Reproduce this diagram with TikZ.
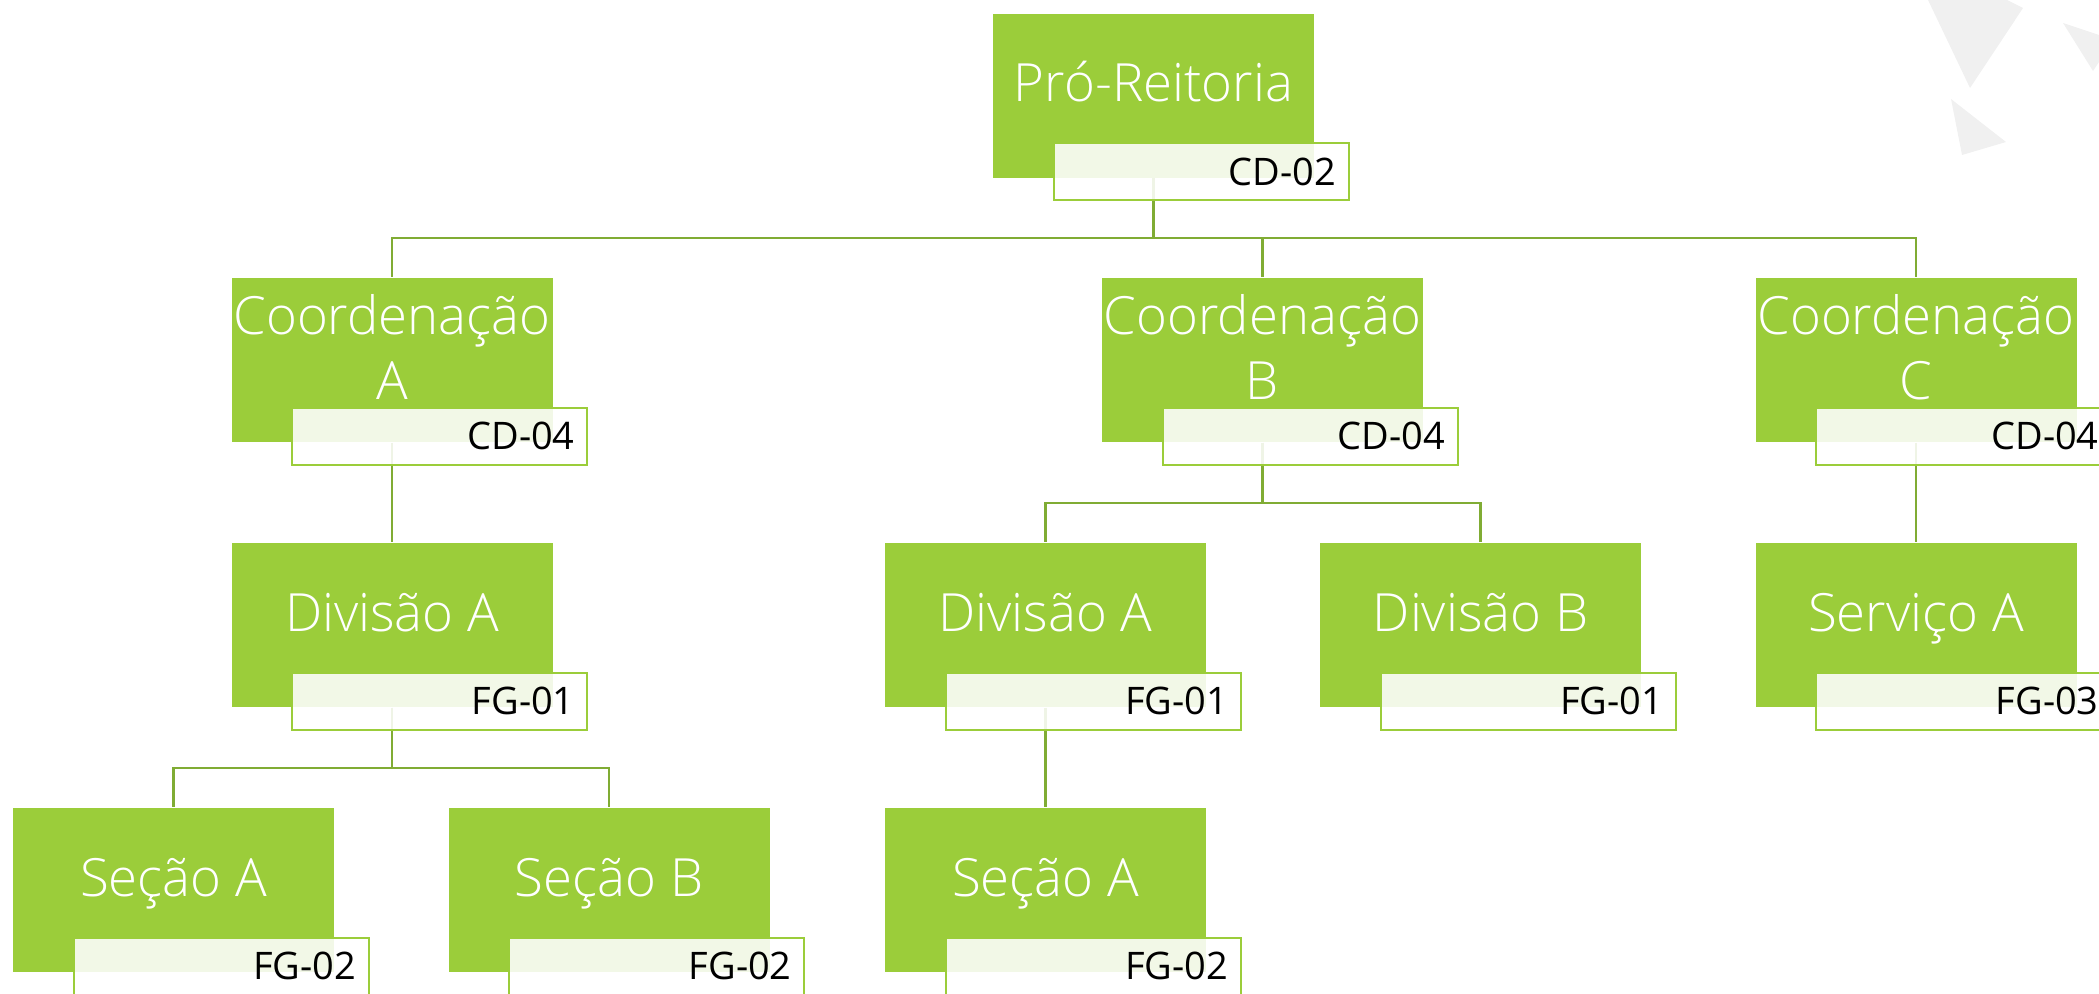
\documentclass[tikz,border=0pt]{standalone}
\usepackage{fontspec}
\setmainfont{Open Sans}
\newfontfamily\thinfont{Open Sans Light}
\usetikzlibrary{positioning}

\definecolor{leafgreen}{RGB}{155, 205, 58}
\definecolor{linkgreen}{RGB}{128, 172, 52}
\definecolor{shardgray}{RGB}{240, 240, 240}

\tikzset{
  unitbox/.style={fill=leafgreen, minimum width=3.21cm, minimum height=1.64cm, inner sep=0pt},
  unittext/.style={text=white, font=\thinfont\fontsize{15}{18.5}\selectfont, align=center, inner sep=0pt},
  gradebox/.style={draw=leafgreen, line width=0.6pt, fill=white, fill opacity=0.88, text opacity=1,
    minimum height=0.57cm, text width=2.7cm, inner xsep=0.125cm, inner ysep=0pt, align=right,
    font=\fontsize{10.8}{12}\selectfont, anchor=north east},
  link/.style={draw=linkgreen, line width=0.6pt}
}

\begin{document}
\begin{tikzpicture}
  \useasboundingbox (0,0) rectangle (20.99,-9.93);

  % background shards, top right
  \fill[shardgray] (19.28,0) -- (20.07,0) -- (20.23,-0.08) -- (19.70,-0.88) -- cycle;
  \fill[shardgray] (20.63,-0.23) -- (20.99,-0.35) -- (20.99,-0.62) -- (20.93,-0.71) -- cycle;
  \fill[shardgray] (19.51,-0.99) -- (20.06,-1.42) -- (19.62,-1.55) -- cycle;

  % unit boxes
  \node[unitbox] (pr) at (11.535,-0.955) {};
  \node[unitbox] (ca) at (3.92,-3.60) {};
  \node[unitbox] (cb) at (12.625,-3.60) {};
  \node[unitbox] (cc) at (19.16,-3.60) {};
  \node[unitbox] (da) at (3.92,-6.25) {};
  \node[unitbox] (dba) at (10.455,-6.25) {};
  \node[unitbox] (dbb) at (14.805,-6.25) {};
  \node[unitbox] (sv) at (19.16,-6.25) {};
  \node[unitbox] (sa) at (1.735,-8.90) {};
  \node[unitbox] (sb) at (6.09,-8.90) {};
  \node[unitbox] (sba) at (10.455,-8.90) {};

  % connectors
  \draw[link] (pr.south) -- ++(0,-0.60) -| (ca.north);
  \draw[link] (pr.south) -- ++(0,-0.60) -| (cb.north);
  \draw[link] (pr.south) -- ++(0,-0.60) -| (cc.north);
  \draw[link] (ca.south) -- (da.north);
  \draw[link] (cb.south) -- ++(0,-0.60) -| (dba.north);
  \draw[link] (cb.south) -- ++(0,-0.60) -| (dbb.north);
  \draw[link] (cc.south) -- (sv.north);
  \draw[link] (da.south) -- ++(0,-0.60) -| (sa.north);
  \draw[link] (da.south) -- ++(0,-0.60) -| (sb.north);
  \draw[link] (dba.south) -- (sba.north);

  % unit names
  \node[unittext, anchor=base] (prt) at ([yshift=-0.89cm]pr.north) {Pró-Reitoria};
  \node[unittext] (cat) at ([yshift=-0.70cm]ca.north) {Coordenação\\A};
  \node[unittext] (cbt) at ([yshift=-0.70cm]cb.north) {Coordenação\\B};
  \node[unittext] (cct) at ([yshift=-0.70cm]cc.north) {Coordenação\\C};
  \node[unittext, anchor=base] (dat) at ([yshift=-0.89cm]da.north) {Divisão A};
  \node[unittext, anchor=base] (dbat) at ([yshift=-0.89cm]dba.north) {Divisão A};
  \node[unittext, anchor=base] (dbbt) at ([yshift=-0.89cm]dbb.north) {Divisão B};
  \node[unittext, anchor=base] (svt) at ([yshift=-0.89cm]sv.north) {Serviço A};
  \node[unittext, anchor=base] (sat) at ([yshift=-0.89cm]sa.north) {Seção A};
  \node[unittext, anchor=base] (sbt) at ([yshift=-0.89cm]sb.north) {Seção B};
  \node[unittext, anchor=base] (sbat) at ([yshift=-0.89cm]sba.north) {Seção A};

  % grade tags
  \node[gradebox] (prg) at ([shift={(0.35,0.36)}]pr.south east) {CD-02};
  \node[gradebox] (cag) at ([shift={(0.35,0.36)}]ca.south east) {CD-04};
  \node[gradebox] (cbg) at ([shift={(0.35,0.36)}]cb.south east) {CD-04};
  \node[gradebox] (ccg) at ([shift={(0.35,0.36)}]cc.south east) {CD-04};
  \node[gradebox] (dag) at ([shift={(0.35,0.36)}]da.south east) {FG-01};
  \node[gradebox] (dbag) at ([shift={(0.35,0.36)}]dba.south east) {FG-01};
  \node[gradebox] (dbbg) at ([shift={(0.35,0.36)}]dbb.south east) {FG-01};
  \node[gradebox] (svg) at ([shift={(0.35,0.36)}]sv.south east) {FG-03};
  \node[gradebox] (sag) at ([shift={(0.35,0.36)}]sa.south east) {FG-02};
  \node[gradebox] (sbg) at ([shift={(0.35,0.36)}]sb.south east) {FG-02};
  \node[gradebox] (sbag) at ([shift={(0.35,0.36)}]sba.south east) {FG-02};
\end{tikzpicture}
\end{document}
